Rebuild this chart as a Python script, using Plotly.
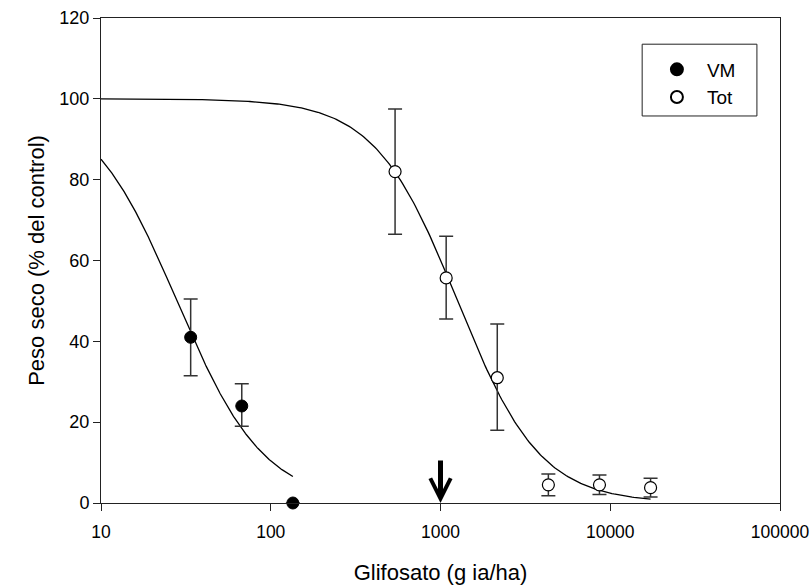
import numpy as np
import plotly.graph_objects as go

# Data
vm_dose = [33.75, 67.5, 135]
vm_val = [41, 24, 0]
vm_err_plus = [9.5, 5.5, 0]
vm_err_minus = [9.5, 5.0, 0]

tot_dose = [540, 1080, 2160, 4320, 8640, 17280]
tot_val = [82, 55.7, 31, 4.5, 4.5, 3.8]
tot_err_plus = [15.5, 10.3, 13.3, 2.7, 2.4, 2.3]
tot_err_minus = [15.5, 10.2, 13.0, 2.7, 2.4, 2.3]

# Fitted log-logistic curves: y = top / (1 + (x/ED50)^b)
vm_fit = dict(top=100, ed50=28.0, b=1.69, xmin=10, xmax=135)
tot_fit = dict(top=100, ed50=1260, b=1.78, xmin=10, xmax=17280)

x_tickvals = [10, 100, 1000, 10000, 100000]
x_ticktext = ["10", "100", "1000", "10000", "100000"]
y_tickvals = [0, 20, 40, 60, 80, 100, 120]


def curve(p):
    x = np.logspace(np.log10(p["xmin"]), np.log10(p["xmax"]), 300)
    y = p["top"] / (1 + (x / p["ed50"]) ** p["b"])
    return x, y


FONT = "Liberation Sans, Arial, sans-serif"
fig = go.Figure()

cx, cy = curve(vm_fit)
fig.add_trace(go.Scatter(x=cx, y=cy, mode="lines", line=dict(color="black", width=1.3),
                         showlegend=False, hoverinfo="skip"))
cx, cy = curve(tot_fit)
fig.add_trace(go.Scatter(x=cx, y=cy, mode="lines", line=dict(color="black", width=1.3),
                         showlegend=False, hoverinfo="skip"))

fig.add_trace(go.Scatter(
    x=vm_dose, y=vm_val, mode="markers", name="VM",
    marker=dict(symbol="circle", size=12, color="black", line=dict(color="black", width=1)),
    error_y=dict(type="data", array=vm_err_plus, arrayminus=vm_err_minus, symmetric=False,
                 color="#333333", thickness=1.5, width=7),
    cliponaxis=False,
))
fig.add_trace(go.Scatter(
    x=tot_dose, y=tot_val, mode="markers", name="Tot",
    marker=dict(symbol="circle", size=12, color="white", line=dict(color="black", width=1.2)),
    error_y=dict(type="data", array=tot_err_plus, arrayminus=tot_err_minus, symmetric=False,
                 color="#333333", thickness=1.5, width=7),
    cliponaxis=False,
))

fig.add_annotation(x=3, y=0, xref="x", yref="y", ax=0, ay=-44, axref="pixel", ayref="pixel",
                   text="", showarrow=True, arrowhead=5, arrowsize=0.8, arrowwidth=5,
                   arrowcolor="black", standoff=0)

# legend frame
fig.add_shape(type="rect", xref="paper", yref="paper", x0=0.797, x1=0.966, y0=0.798, y1=0.946,
              line=dict(color="#222222", width=1), fillcolor="white", layer="below")

fig.update_layout(
    width=811, height=588,
    margin=dict(l=101, r=31, t=18, b=85),
    paper_bgcolor="white", plot_bgcolor="rgba(0,0,0,0)",
    font=dict(family=FONT, size=18, color="black"),
    showlegend=True,
    legend=dict(x=0.804, y=0.933, xanchor="left", yanchor="top",
                borderwidth=0, bgcolor="rgba(0,0,0,0)",
                font=dict(family=FONT, size=19), itemsizing="constant", itemwidth=50,
                tracegroupgap=0, traceorder="normal"),
    xaxis=dict(type="log", range=[1, 5], tickvals=x_tickvals, ticktext=x_ticktext,
               ticks="outside", ticklen=7, tickcolor="#222222", showline=True,
               linecolor="#222222", linewidth=1, mirror=True, showgrid=False, zeroline=False,
               automargin=False, ticklabelstandoff=6,
               title=dict(text="Glifosato (g ia/ha)", standoff=23, font=dict(size=22)),
               tickfont=dict(size=17.5)),
    yaxis=dict(range=[0, 120], tickvals=y_tickvals, ticks="outside", ticklen=7,
               tickcolor="#222222", showline=True, linecolor="#222222", linewidth=1,
               mirror=True, showgrid=False, zeroline=False, automargin=False,
               title=dict(text="Peso seco (% del control)", standoff=8, font=dict(size=22)),
               tickfont=dict(size=18)),
)

# remove the default 8px page margin so the figure fills the 811x588 window exactly
fig.write_html("out.html", config={"displayModeBar": False},
               post_script="document.body.style.margin='0';document.body.style.overflow='hidden';")
